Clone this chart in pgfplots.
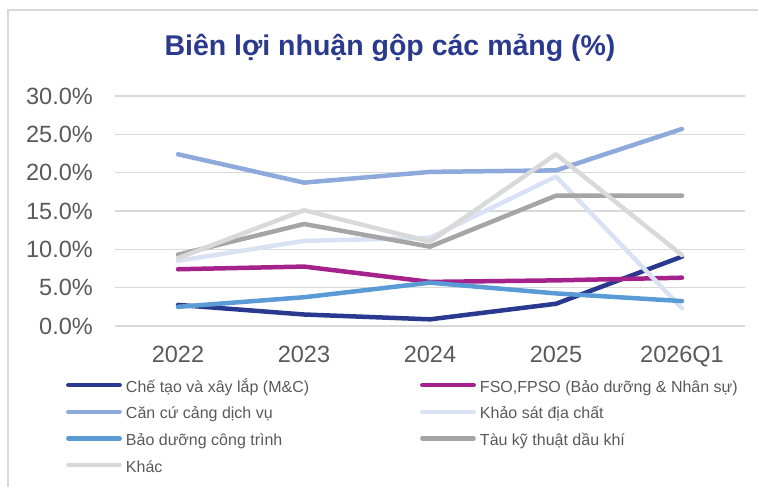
\documentclass[border=0pt]{standalone}
\usepackage{fontspec}
\setmainfont{Liberation Sans}
\usepackage{pgfplots}
\pgfplotsset{compat=1.18}
\definecolor{cMC}{HTML}{2A3990}
\definecolor{cFSO}{HTML}{A5218C}
\definecolor{cCang}{HTML}{8EA9DB}
\definecolor{cKS}{HTML}{D9E2F3}
\definecolor{cBD}{HTML}{5B9BD5}
\definecolor{cTau}{HTML}{A5A5A5}
\definecolor{cKhac}{HTML}{D9D9D9}
\definecolor{cTitle}{HTML}{2B3A8E}
\definecolor{cTick}{HTML}{595959}
\definecolor{cGrid}{HTML}{D9D9D9}
\newcommand{\LE}[2]{\makebox[#1][l]{\smash{#2}\rule[-4pt]{0pt}{16pt}}}
\begin{document}
\begin{tikzpicture}[x=1pt,y=1pt]
\path[use as bounding box] (0,0) rectangle (758,487);
\draw[cGrid, line width=1.5pt] (8,0) -- (8,477) -- (758,477);
\node[anchor=base, text=cTitle, font=\fontsize{28.5}{34}\selectfont\bfseries, inner sep=0pt] at (390,431) {Biên lợi nhuận gộp các mảng (\%)};
\begin{axis}[
  at={(115pt,161pt)}, anchor=south west,
  scale only axis, width=630pt, height=230pt,
  xmin=-0.5, xmax=4.5, ymin=0, ymax=30,
  xtick={0,1,2,3,4}, xticklabels={2022,2023,2024,2025,2026Q1},
  ytick={0,5,10,15,20,25,30},
  /pgf/number format/assume math mode=true,
  yticklabel={\pgfmathprintnumber[fixed,fixed zerofill,precision=1]{\tick}\%},
  ymajorgrids, grid style={cGrid, line width=1.5pt},
  axis line style={draw=none},
  major tick length=0pt,
  tick style={draw=none},
  yticklabel style={anchor=east, inner sep=0pt, xshift=-22pt, text=cTick, font=\fontsize{23.5}{28}\selectfont},
  xticklabel style={anchor=north, inner sep=0pt, yshift=-20pt, text=cTick, font=\fontsize{23.5}{28}\selectfont},
  every axis plot/.append style={line width=4.5pt, line cap=round, line join=round, mark=none},
  legend columns=2,
  legend cell align=left,
  legend image code/.code={
    \path[draw=none, fill=none] (0pt,-8pt) rectangle (56pt,8pt);
    \draw[#1, line width=4.2pt, line cap=round] (2.2pt,1.8pt) -- (53.8pt,1.8pt);
  },
  legend style={
    at={(axis description cs:-0.0778,-0.2296)}, anchor=north west,
    draw=none, fill=none, inner sep=0pt, outer sep=0pt,
    row sep=10.7pt, column sep=0pt,
    font=\fontsize{16}{19}\selectfont, text=cTick,
    nodes={inner sep=0pt},
    /tikz/every odd column/.append style={column sep=4pt},
  },
]
\addplot[cMC] coordinates {(0,2.75) (1,1.5) (2,0.87) (3,2.9) (4,9.05)};
\addlegendentry{\LE{294pt}{Chế tạo và xây lắp (M\&C)}}
\addplot[cFSO] coordinates {(0,7.4) (1,7.75) (2,5.75) (3,5.95) (4,6.3)};
\addlegendentry{\LE{260pt}{FSO,FPSO (Bảo dưỡng \& Nhân sự)}}
\addplot[cCang] coordinates {(0,22.4) (1,18.7) (2,20.1) (3,20.3) (4,25.7)};
\addlegendentry{\LE{294pt}{Căn cứ cảng dịch vụ}}
\addplot[cKS] coordinates {(0,8.5) (1,11.1) (2,11.5) (3,19.5) (4,2.3)};
\addlegendentry{\LE{260pt}{Khảo sát địa chất}}
\addplot[cBD] coordinates {(0,2.5) (1,3.75) (2,5.65) (3,4.25) (4,3.25)};
\addlegendentry{\LE{294pt}{Bảo dưỡng công trình}}
\addplot[cTau] coordinates {(0,9.3) (1,13.3) (2,10.35) (3,17.0) (4,17.0)};
\addlegendentry{\LE{260pt}{Tàu kỹ thuật dầu khí}}
\addplot[cKhac] coordinates {(0,8.85) (1,15.1) (2,11.0) (3,22.4) (4,9.25)};
\addlegendentry{\LE{294pt}{Khác}}
\end{axis}
\end{tikzpicture}
\end{document}
